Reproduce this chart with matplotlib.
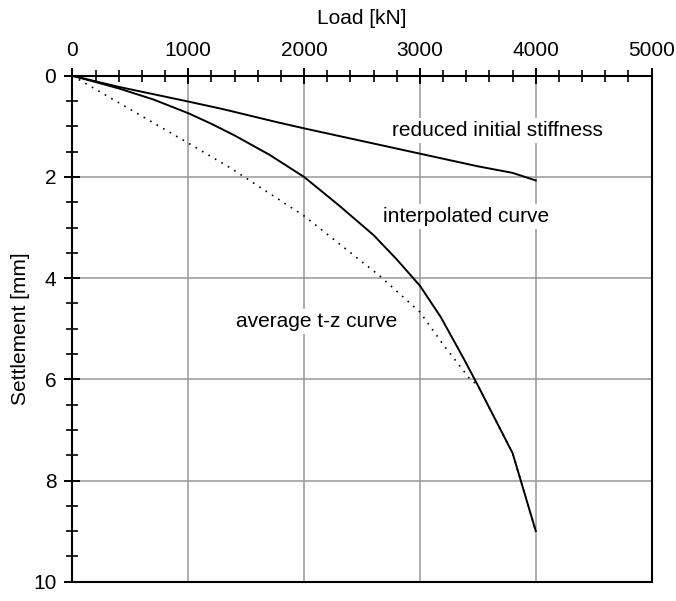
import numpy as np
import matplotlib.pyplot as plt
from matplotlib.ticker import MultipleLocator

plt.rcParams['font.family'] = ['Liberation Sans', 'DejaVu Sans']

# load [kN] vs settlement [mm]
reduced_load = [0, 400, 1000, 1300, 1770, 2000, 2500, 3000, 3500, 3800, 4000]
reduced_settl = [0, 0.22, 0.51, 0.66, 0.92, 1.04, 1.29, 1.54, 1.79, 1.92, 2.07]

interp_load = [0, 400, 700, 1000, 1200, 1400, 1700, 2000, 2300, 2600, 2800,
               3000, 3180, 3380, 3500, 3800, 4000]
interp_settl = [0, 0.25, 0.47, 0.74, 0.95, 1.18, 1.56, 2.0, 2.56, 3.15, 3.63,
                4.15, 4.77, 5.60, 6.12, 7.46, 9.0]

avg_load = [0, 1000, 1370, 2000, 2650, 3000, 3200, 3430, 3500, 3800, 4000]
avg_settl = [0, 1.33, 1.83, 2.77, 3.95, 4.67, 5.31, 5.99, 6.12, 7.46, 9.0]

labels = ["reduced initial stiffness", "interpolated curve", "average t-z curve"]
label_pos = [(3670, 1.08), (3400, 2.78), (2110, 4.86)]

fig = plt.figure(figsize=(6.76, 6.01), dpi=100)
ax = fig.add_axes([0.107, 0.032, 0.857, 0.842])

ax.plot(reduced_load, reduced_settl, color='k', lw=1.4)
ax.plot(interp_load, interp_settl, color='k', lw=1.4)
ax.plot(avg_load, avg_settl, color='k', lw=1.2, ls=(0, (1, 3.5)))

for txt, (x, y) in zip(labels, label_pos):
    ax.text(x, y, txt, fontsize=15, ha='center', va='center',
            bbox=dict(facecolor='white', edgecolor='none', pad=2))

ax.set_xlim(0, 5000)
ax.set_ylim(10, 0)
ax.xaxis.set_major_locator(MultipleLocator(1000))
ax.xaxis.set_minor_locator(MultipleLocator(200))
ax.yaxis.set_major_locator(MultipleLocator(2))
ax.yaxis.set_minor_locator(MultipleLocator(0.5))
ax.xaxis.tick_top()
ax.xaxis.set_label_position('top')
ax.tick_params(which='major', direction='inout', length=11, width=1.4,
               labelsize=15, pad=6)
ax.tick_params(which='minor', direction='inout', length=8, width=1.2)
ax.tick_params(axis='x', bottom=False, top=True)
ax.tick_params(axis='y', left=True, right=False)
ax.grid(True, which='major', color='#999999', lw=1.1)
ax.set_axisbelow(True)
for sp in ax.spines.values():
    sp.set_linewidth(1.5)

ax.set_xlabel("Load [kN]", fontsize=15, labelpad=12)
ax.set_ylabel("Settlement [mm]", fontsize=15, labelpad=2)

fig.savefig("out.png", dpi=100)
